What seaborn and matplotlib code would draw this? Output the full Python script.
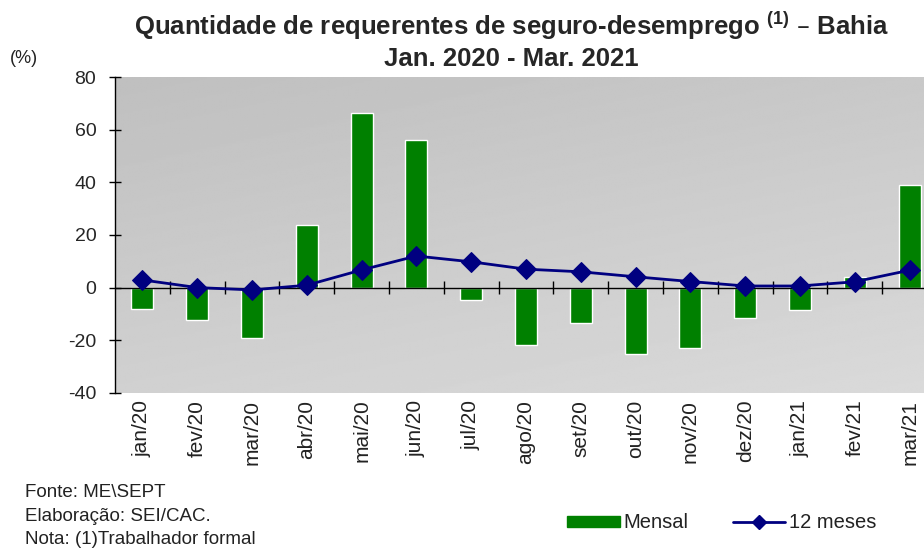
import numpy as np
import pandas as pd
import matplotlib
matplotlib.use('Agg')
import matplotlib.pyplot as plt
from matplotlib.patches import Patch
from matplotlib.lines import Line2D
import seaborn as sns

# dados
meses = ['jan/20', 'fev/20', 'mar/20', 'abr/20', 'mai/20', 'jun/20', 'jul/20', 'ago/20',
         'set/20', 'out/20', 'nov/20', 'dez/20', 'jan/21', 'fev/21', 'mar/21']
mensal = [-8.0, -12.4, -19.2, 23.7, 66.3, 56.3, -4.8, -21.9, -13.4, -25.1, -23.0, -11.4, -8.5, 4.1, 39.2]
doze_meses = [2.9, 0.0, -0.9, 0.9, 6.7, 12.0, 9.8, 7.0, 6.0, 4.1, 2.3, 0.6, 0.6, 2.2, 6.6]
yticks = [-40, -20, 0, 20, 40, 60, 80]

sns.set_theme(style='white')
plt.rcParams['font.family'] = ['Liberation Sans', 'DejaVu Sans']
plt.rcParams['mathtext.default'] = 'regular'
plt.rcParams['axes.unicode_minus'] = False

df = pd.DataFrame({'mes': meses, 'mensal': mensal, 'doze': doze_meses})
df['pos'] = np.arange(len(df))

fig = plt.figure(figsize=(9.24, 5.49), dpi=100)
ax = fig.add_axes([115/924, 1-392.7/549, 822/924, (392.7-77.3)/549])

# fundo em degrade cinza
yy, xx = np.mgrid[0:1:200j, 0:1:200j]
grad = 0.75 + 0.105*(0.65*yy + 0.35*xx)
ax.imshow(grad, cmap='gray', vmin=0, vmax=1, extent=[0, 1, 0, 1], transform=ax.transAxes,
          aspect='auto', zorder=0, origin='upper', interpolation='bilinear')

sns.barplot(data=df, x='mes', y='mensal', order=meses, color='#008000', saturation=1,
            width=0.4, ax=ax, zorder=2)
sns.lineplot(data=df, x='pos', y='doze', color='#000080', marker='D', markersize=10,
             markeredgecolor='#000080', linewidth=2, ax=ax, zorder=4)

ax.set_xlim(-0.5, 14.5)
ax.set_ylim(-40, 80)
ax.set_yticks(yticks)
ax.set_xticks(df['pos'])
ax.set_xticklabels(meses, rotation=90, fontsize=15, color='#222222')
ax.tick_params(axis='x', length=0, pad=5)
ax.tick_params(axis='y', direction='inout', length=9, width=1, color='black',
               labelsize=14, pad=9, left=True)
for s in ['top', 'right', 'bottom']:
    ax.spines[s].set_visible(False)
ax.spines['left'].set_color('black')
ax.spines['left'].set_linewidth(1)
ax.set_xlabel('')
ax.set_ylabel('')

# linha do zero com marcas entre categorias
ax.axhline(0, color='black', lw=1, zorder=3)
ax.vlines(df['pos'][:-1] + 0.5, -2.5, 2.5, color='black', lw=1, zorder=3)

fig.text(511/924, 1-35/549, 'Quantidade de requerentes de seguro-desemprego $^{(1)}$ \u2013 Bahia',
         ha='center', va='baseline', fontsize=18.5, fontweight='bold')
fig.text(511/924, 1-66/549, 'Jan. 2020 - Mar. 2021', ha='center', va='baseline',
         fontsize=18.5, fontweight='bold')
fig.text(10/924, 1-63/549, '(%)', ha='left', va='baseline', fontsize=13, color='#222222')

fig.text(25/924, 1-497/549, 'Fonte: ME\\SEPT', ha='left', va='baseline', fontsize=13.5, color='#222222')
fig.text(25/924, 1-521/549, 'Elabora\u00e7\u00e3o: SEI/CAC.', ha='left', va='baseline', fontsize=13.5, color='#222222')
fig.text(25/924, 1-544/549, 'Nota: (1)Trabalhador formal', ha='left', va='baseline', fontsize=13.5, color='#222222')

handles = [Patch(facecolor='#008000', edgecolor='#008000'),
           Line2D([0], [0], color='#000080', lw=2, marker='D', markersize=7)]
fig.legend(handles, ['Mensal', '12 meses'], loc='center', bbox_to_anchor=(722/924, 1-523/549),
           ncol=2, frameon=False, fontsize=14.5, handlelength=2.6, handleheight=0.45,
           handletextpad=0.2, columnspacing=2.2, labelcolor='#222222')

fig.savefig('out.png', dpi=100)
